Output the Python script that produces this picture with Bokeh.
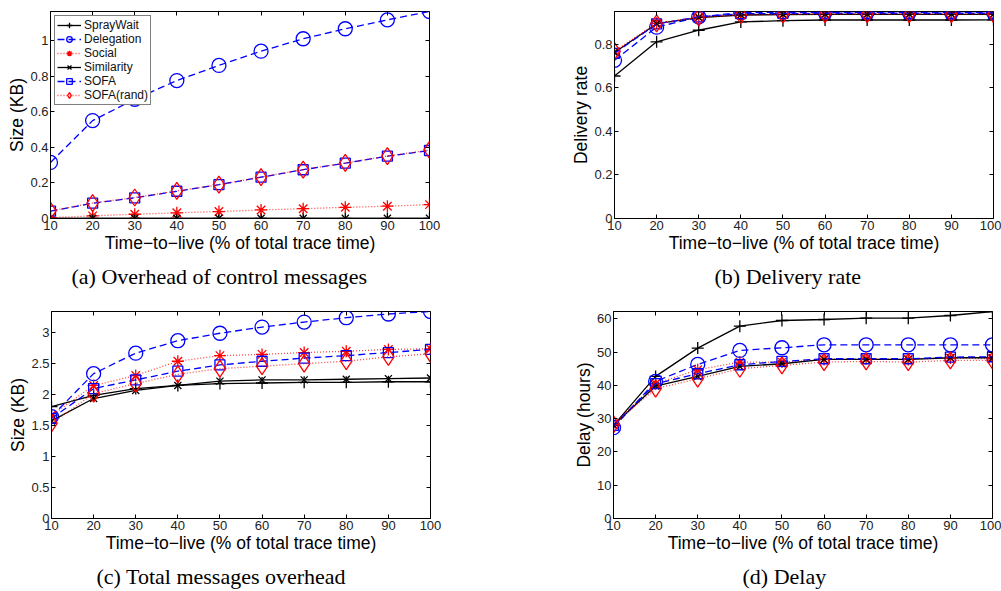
from bokeh.plotting import figure
from bokeh.layouts import column, row
from bokeh.models import (Range1d, FixedTicker, LinearAxis, CustomJSTickFormatter,
                          Title)
from bokeh.embed import file_html
from bokeh.resources import INLINE

# ---------------- data ----------------
ttl = [10, 20, 30, 40, 50, 60, 70, 80, 90, 100]
names = ["SprayWait", "Delegation", "Social", "Similarity", "SOFA", "SOFA(rand)"]

# (a) Overhead of control messages, Size (KB)
a_spraywait = [0, 0, 0, 0, 0, 0, 0, 0, 0, 0]
a_delegation = [0.315, 0.55, 0.67, 0.775, 0.86, 0.94, 1.01, 1.066, 1.116, 1.163]
a_social = [0.005, 0.015, 0.024, 0.032, 0.039, 0.048, 0.055, 0.063, 0.069, 0.078]
a_similarity = [0.001, 0.001, 0.001, 0.001, 0.001, 0.001, 0.001, 0.001, 0.001, 0.001]
a_sofa = [0.041, 0.086, 0.116, 0.153, 0.19, 0.232, 0.274, 0.311, 0.35, 0.382]
a_sofa_rand = [0.043, 0.087, 0.118, 0.155, 0.19, 0.233, 0.275, 0.312, 0.351, 0.385]

# (b) Delivery rate
b_spraywait = [0.654, 0.811, 0.864, 0.902, 0.908, 0.911, 0.911, 0.911, 0.911, 0.912]
b_delegation = [0.726, 0.878, 0.925, 0.945, 0.946, 0.946, 0.946, 0.946, 0.946, 0.946]
b_social = [0.765, 0.896, 0.924, 0.935, 0.938, 0.939, 0.939, 0.939, 0.939, 0.939]
b_similarity = [0.762, 0.894, 0.922, 0.934, 0.936, 0.937, 0.937, 0.937, 0.937, 0.937]
b_sofa = [0.758, 0.893, 0.925, 0.94, 0.941, 0.942, 0.942, 0.942, 0.942, 0.942]
b_sofa_rand = [0.768, 0.895, 0.923, 0.934, 0.937, 0.938, 0.938, 0.938, 0.938, 0.938]

# (c) Total messages overhead, Size (KB)
c_spraywait = [1.80, 1.98, 2.09, 2.14, 2.17, 2.18, 2.19, 2.19, 2.20, 2.20]
c_delegation = [1.64, 2.33, 2.66, 2.86, 2.98, 3.08, 3.16, 3.23, 3.29, 3.33]
c_social = [1.66, 2.14, 2.30, 2.53, 2.62, 2.64, 2.67, 2.69, 2.72, 2.73]
c_similarity = [1.57, 1.93, 2.06, 2.14, 2.21, 2.23, 2.23, 2.24, 2.25, 2.26]
c_sofa = [1.61, 2.09, 2.23, 2.37, 2.47, 2.53, 2.58, 2.62, 2.67, 2.72]
c_sofa_rand = [1.53, 2.01, 2.17, 2.32, 2.41, 2.45, 2.49, 2.53, 2.60, 2.65]

# (d) Delay (hours)
d_spraywait = [28.0, 42.7, 51.2, 57.8, 59.5, 59.8, 60.2, 60.2, 61.0, 62.2]
d_delegation = [27.3, 41.2, 46.3, 50.5, 51.3, 52.2, 52.2, 52.2, 52.2, 52.2]
d_social = [28.2, 40.5, 44.7, 47.0, 47.0, 47.8, 48.0, 47.8, 48.2, 48.0]
d_similarity = [28.0, 39.8, 42.7, 45.7, 46.5, 47.8, 47.8, 47.8, 48.3, 48.3]
d_sofa = [28.0, 40.5, 43.5, 46.2, 47.2, 48.0, 48.0, 48.0, 48.5, 48.6]
d_sofa_rand = [28.3, 39.0, 42.0, 45.0, 46.0, 47.0, 47.2, 47.0, 47.5, 47.5]

a_ticks = [0, 0.2, 0.4, 0.6, 0.8, 1]
b_ticks = [0, 0.2, 0.4, 0.6, 0.8]
c_ticks = [0, 0.5, 1, 1.5, 2, 2.5, 3]
d_ticks = [0, 10, 20, 30, 40, 50, 60]

x_label = "Time\u2212to\u2212live (% of total trace time)"

# ---------------- styles ----------------
BLUE = "#0000ff"
RED = "#ff0000"
styles = {
    "SprayWait": dict(color="black", dash="solid", marker="cross", size=12, alpha=1.0),
    "Delegation": dict(color=BLUE, dash="7 4", marker="circle", size=14, alpha=1.0),
    "Social": dict(color=RED, dash="1 2", marker="asterisk", size=12, alpha=0.75),
    "Similarity": dict(color="black", dash="solid", marker="x", size=10, alpha=1.0),
    "SOFA": dict(color=BLUE, dash="7 4", marker="square", size=10, alpha=1.0),
    "SOFA(rand)": dict(color=RED, dash="1 2", marker="diamond", size=17, alpha=0.75),
}

SANS = "Liberation Sans"
SERIF = "Liberation Serif"
FRAME_H = 207


def make_panel(series, ymax, yticks, ylabel, caption, cap_offset,
               lb, fw, rb, total_h, legend=False):
    p = figure(frame_width=fw, frame_height=FRAME_H,
               min_border_left=lb, min_border_right=rb,
               min_border_top=11, min_border_bottom=total_h - 11 - FRAME_H,
               x_range=Range1d(10, 100), y_range=Range1d(0, ymax),
               output_backend="svg", toolbar_location=None, title=None)
    p.grid.visible = False
    p.outline_line_color = "black"
    p.outline_line_width = 1
    p.background_fill_color = "white"
    p.border_fill_color = "white"

    for ax, ticks in ((p.xaxis[0], ttl), (p.yaxis[0], yticks)):
        ax.ticker = FixedTicker(ticks=ticks)
        ax.major_tick_in = 4
        ax.major_tick_out = 0
        ax.minor_tick_in = 0
        ax.minor_tick_out = 0
        ax.axis_line_color = "black"
        ax.major_tick_line_color = "black"
        ax.major_label_text_font = SANS
        ax.major_label_text_font_size = "13px"
        ax.major_label_text_color = "#222222"
        ax.major_label_standoff = 2
        ax.axis_label_text_font = SANS
        ax.axis_label_text_font_size = "17.5px"
        ax.axis_label_text_font_style = "normal"
        ax.axis_label_text_color = "black"
        ax.axis_label_standoff = 0
        ax.formatter = CustomJSTickFormatter(code="return String(Number(tick.toFixed(3)));")
    p.xaxis[0].axis_label = x_label
    p.yaxis[0].axis_label = ylabel

    # ticks on top and right (box on)
    for loc, ticks in (("right", yticks), ("above", ttl)):
        ax = LinearAxis(ticker=FixedTicker(ticks=ticks),
                        formatter=CustomJSTickFormatter(code="return '';"),
                        major_tick_in=4, major_tick_out=0,
                        minor_tick_in=0, minor_tick_out=0,
                        axis_line_color=None, major_tick_line_color="black",
                        major_label_text_font_size="0px", major_label_standoff=0)
        p.add_layout(ax, loc)

    for name in names:
        st = styles[name]
        ys = series[name]
        kw = dict(legend_label=name) if legend else {}
        p.line(ttl, ys, line_color=st["color"], line_dash=st["dash"],
               line_width=1.3, line_alpha=st["alpha"], **kw)
        p.scatter(ttl, ys, marker=st["marker"], size=st["size"],
                  line_color=st["color"], fill_alpha=0, line_width=1.3, **kw)

    if legend:
        lg = p.legend[0]
        lg.location = "top_left"
        lg.label_text_font = SANS
        lg.label_text_font_size = "12px"
        lg.label_text_color = "#111111"
        lg.glyph_width = 24
        lg.glyph_height = 14
        lg.label_height = 14
        lg.label_standoff = 3
        lg.spacing = 0
        lg.padding = 2
        lg.margin = 4
        lg.border_line_color = "black"
        lg.border_line_width = 1
        lg.background_fill_color = "white"
        lg.background_fill_alpha = 1.0

    cap = Title(text=caption, align="left", offset=cap_offset, standoff=12,
                text_font=SERIF, text_font_size="22px", text_font_style="normal",
                text_color="black")
    p.add_layout(cap, "below")
    return p


sa = dict(zip(names, [a_spraywait, a_delegation, a_social, a_similarity, a_sofa, a_sofa_rand]))
sb = dict(zip(names, [b_spraywait, b_delegation, b_social, b_similarity, b_sofa, b_sofa_rand]))
sc = dict(zip(names, [c_spraywait, c_delegation, c_social, c_similarity, c_sofa, c_sofa_rand]))
sd = dict(zip(names, [d_spraywait, d_delegation, d_social, d_similarity, d_sofa, d_sofa_rand]))

pa = make_panel(sa, 1.163, a_ticks, "Size (KB)", "(a) Overhead of control messages", 21,
                50, 379, 71, 300, legend=True)
pb = make_panel(sb, 0.95, b_ticks, "Delivery rate", "(b) Delivery rate", 100,
                114, 379, 8, 300)
pc = make_panel(sc, 3.33, c_ticks, "Size (KB)", "(c) Total messages overhead", 45,
                51, 379, 70, 291)
pd = make_panel(sd, 62.2, d_ticks, "Delay (hours)", "(d) Delay", 129,
                113, 379, 9, 291)

layout = column(row(pa, pb, spacing=0), row(pc, pd, spacing=0), spacing=0)

with open("out.html", "w") as f:
    f.write(file_html(layout, INLINE))
